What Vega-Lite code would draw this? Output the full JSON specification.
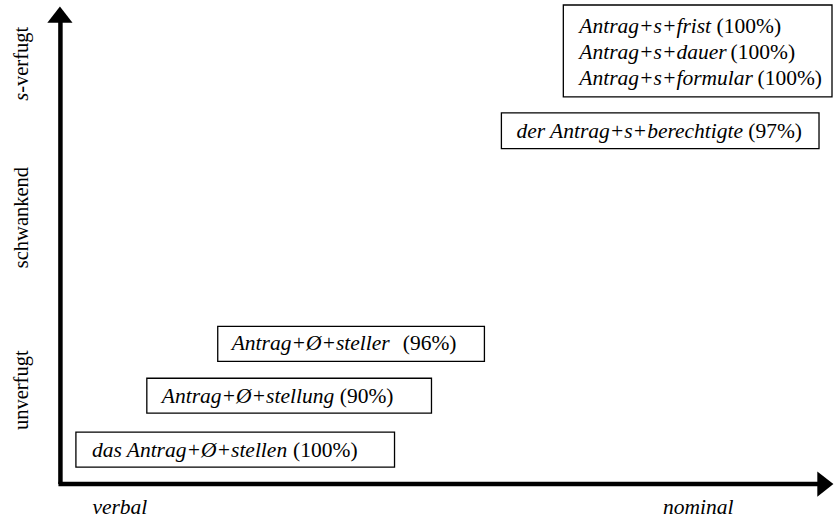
{
  "$schema": "https://vega.github.io/schema/vega-lite/v6.json",
  "autosize": {"type": "fit", "contains": "padding"},
  "width": 834,
  "height": 519,
  "padding": 0,
  "background": "white",
  "config": {"view": {"stroke": null}},
  "datasets": {
    "boxes": [
      {"x": 564, "x2": 833, "y": 5, "y2": 97},
      {"x": 502, "x2": 820, "y": 113, "y2": 149},
      {"x": 218, "x2": 485, "y": 327, "y2": 362},
      {"x": 147, "x2": 432, "y": 379, "y2": 414},
      {"x": 76, "x2": 395, "y": 433, "y2": 468}
    ],
    "entries": [
      {"term": "Antrag+s+frist", "share": "(100%)", "xs": 580, "xe": 782, "y": 27},
      {"term": "Antrag+s+dauer", "share": "(100%)", "xs": 580, "xe": 796, "y": 53},
      {"term": "Antrag+s+formular", "share": "(100%)", "xs": 580, "xe": 823, "y": 79},
      {"term": "der Antrag+s+berechtigte", "share": "(97%)", "xs": 517, "xe": 803, "y": 132},
      {"term": "Antrag+Ø+steller", "share": "(96%)", "xs": 232, "xe": 457, "y": 345},
      {"term": "Antrag+Ø+stellung", "share": "(90%)", "xs": 162, "xe": 394, "y": 398},
      {"term": "das Antrag+Ø+stellen", "share": "(100%)", "xs": 92, "xe": 358, "y": 452}
    ],
    "axes": [
      {"x": 60.5, "y": 485, "x2": 60.5, "y2": 20},
      {"x": 58.5, "y": 485, "x2": 823, "y2": 485}
    ],
    "heads": [
      {"dir": "up", "x": 60, "y": 15},
      {"dir": "right", "x": 826, "y": 485}
    ],
    "ylabels": [
      {"label": "schwankend", "x": 22, "y": 218},
      {"label": "unverfugt", "x": 22, "y": 391}
    ],
    "xlabels": [
      {"label": "verbal", "x": 120, "y": 509},
      {"label": "nominal", "x": 699, "y": 509}
    ],
    "slabel": [
      {"italic": "s", "rest": "-verfugt", "x": 22, "ys": 101, "yr": 93}
    ]
  },
  "layer": [
    {
      "data": {"name": "boxes"},
      "mark": {"type": "rect", "fill": "white", "stroke": "black", "strokeWidth": 1.3},
      "encoding": {
        "x": {"field": "x", "type": "quantitative", "scale": {"domain": [0, 834], "nice": false, "zero": false}, "axis": null},
        "x2": {"field": "x2"},
        "y": {"field": "y", "type": "quantitative", "scale": {"domain": [0, 519], "reverse": true, "nice": false, "zero": false}, "axis": null},
        "y2": {"field": "y2"}
      }
    },
    {
      "data": {"name": "axes"},
      "mark": {"type": "rule", "color": "black", "strokeWidth": 4.5},
      "encoding": {
        "x": {"field": "x", "type": "quantitative"},
        "x2": {"field": "x2"},
        "y": {"field": "y", "type": "quantitative"},
        "y2": {"field": "y2"}
      }
    },
    {
      "data": {"name": "heads"},
      "transform": [{"filter": "datum.dir == 'up'"}],
      "mark": {"type": "point", "shape": "M0,-0.6L0.9,0.55L-0.9,0.55Z", "filled": true, "color": "black", "opacity": 1, "size": 784},
      "encoding": {
        "x": {"field": "x", "type": "quantitative"},
        "y": {"field": "y", "type": "quantitative"}
      }
    },
    {
      "data": {"name": "heads"},
      "transform": [{"filter": "datum.dir == 'right'"}],
      "mark": {"type": "point", "shape": "M0.6,0L-0.55,-0.9L-0.55,0.9Z", "filled": true, "color": "black", "opacity": 1, "size": 784},
      "encoding": {
        "x": {"field": "x", "type": "quantitative"},
        "y": {"field": "y", "type": "quantitative"}
      }
    },
    {
      "data": {"name": "entries"},
      "mark": {"type": "text", "font": "Times New Roman, Liberation Serif, serif", "color": "black", "fontSize": 21.5, "fontStyle": "italic", "align": "left", "baseline": "middle"},
      "encoding": {
        "x": {"field": "xs", "type": "quantitative"},
        "y": {"field": "y", "type": "quantitative"},
        "text": {"field": "term"}
      }
    },
    {
      "data": {"name": "entries"},
      "mark": {"type": "text", "font": "Times New Roman, Liberation Serif, serif", "color": "black", "fontSize": 21.5, "align": "right", "baseline": "middle"},
      "encoding": {
        "x": {"field": "xe", "type": "quantitative"},
        "y": {"field": "y", "type": "quantitative"},
        "text": {"field": "share"}
      }
    },
    {
      "data": {"name": "ylabels"},
      "mark": {"type": "text", "font": "Times New Roman, Liberation Serif, serif", "color": "black", "fontSize": 20.5, "angle": 270, "align": "center", "baseline": "middle"},
      "encoding": {
        "x": {"field": "x", "type": "quantitative"},
        "y": {"field": "y", "type": "quantitative"},
        "text": {"field": "label"}
      }
    },
    {
      "data": {"name": "slabel"},
      "mark": {"type": "text", "font": "Times New Roman, Liberation Serif, serif", "color": "black", "fontSize": 20.5, "angle": 270, "align": "left", "baseline": "middle", "fontStyle": "italic"},
      "encoding": {
        "x": {"field": "x", "type": "quantitative"},
        "y": {"field": "ys", "type": "quantitative"},
        "text": {"field": "italic"}
      }
    },
    {
      "data": {"name": "slabel"},
      "mark": {"type": "text", "font": "Times New Roman, Liberation Serif, serif", "color": "black", "fontSize": 20.5, "angle": 270, "align": "left", "baseline": "middle"},
      "encoding": {
        "x": {"field": "x", "type": "quantitative"},
        "y": {"field": "yr", "type": "quantitative"},
        "text": {"field": "rest"}
      }
    },
    {
      "data": {"name": "xlabels"},
      "mark": {"type": "text", "font": "Times New Roman, Liberation Serif, serif", "color": "black", "fontSize": 21.5, "fontStyle": "italic", "align": "center", "baseline": "middle"},
      "encoding": {
        "x": {"field": "x", "type": "quantitative"},
        "y": {"field": "y", "type": "quantitative"},
        "text": {"field": "label"}
      }
    }
  ]
}
